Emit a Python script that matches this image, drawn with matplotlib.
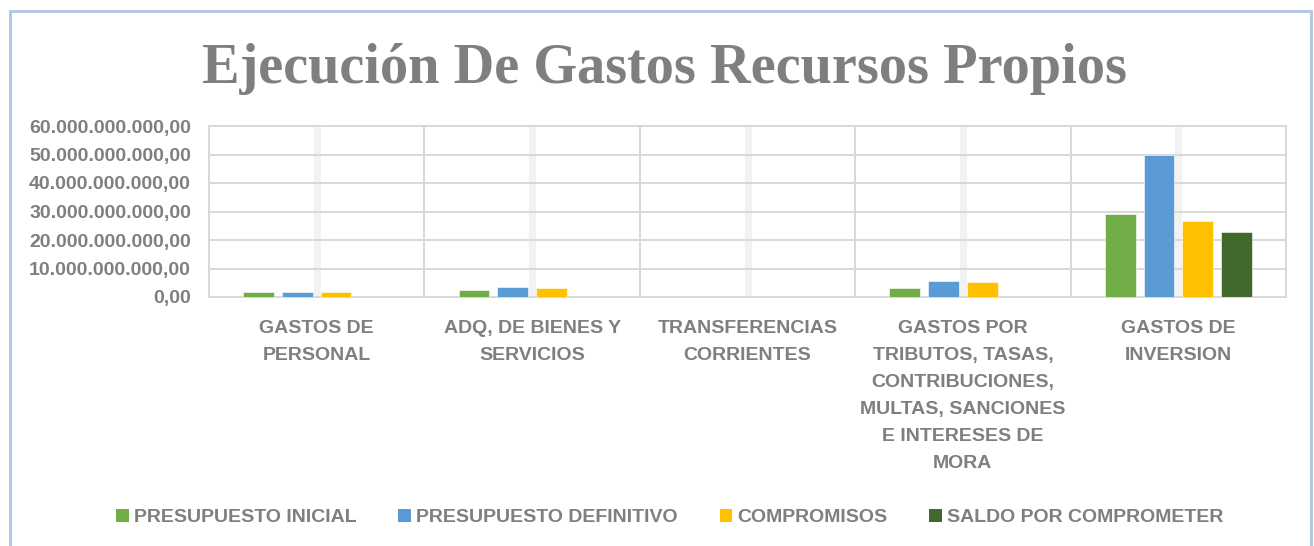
import matplotlib
matplotlib.use("Agg")
import matplotlib.pyplot as plt
from matplotlib.patches import Patch, Rectangle
from matplotlib.ticker import FuncFormatter
import numpy as np

categories = [
    "GASTOS DE\nPERSONAL",
    "ADQ, DE BIENES Y\nSERVICIOS",
    "TRANSFERENCIAS\nCORRIENTES",
    "GASTOS POR\nTRIBUTOS, TASAS,\nCONTRIBUCIONES,\nMULTAS, SANCIONES\nE INTERESES DE\nMORA",
    "GASTOS DE\nINVERSION",
]
series_names = ["PRESUPUESTO INICIAL", "PRESUPUESTO DEFINITIVO", "COMPROMISOS", "SALDO POR COMPROMETER"]
presupuesto_inicial = [1.6e9, 2.3e9, 0.0, 3.1e9, 29.0e9]
presupuesto_definitivo = [1.8e9, 3.4e9, 0.0, 5.5e9, 49.8e9]
compromisos = [1.7e9, 3.1e9, 0.0, 5.3e9, 26.5e9]
saldo_por_comprometer = [0.05e9, 0.1e9, 0.0, 0.1e9, 22.8e9]
y_ticks = [0, 10e9, 20e9, 30e9, 40e9, 50e9, 60e9]
title = "Ejecución De Gastos Recursos Propios"

colors = ["#70AD47", "#5B9BD5", "#FFC000", "#43682B"]
text_gray = "#7F7F7F"
grid_gray = "#D9D9D9"
band_gray = "#F2F2F2"
sans = "Liberation Sans"

W, H, DPI = 1314, 546, 100
fig = plt.figure(figsize=(W / DPI, H / DPI), dpi=DPI)
px = 72.0 / DPI  # points per pixel

# outer frame
fig.patches.append(Rectangle((10 / W, -0.05), (1311 - 10) / W, 1.05 - 11.5 / H,
                             transform=fig.transFigure, fill=False,
                             edgecolor="#B4C7E7", linewidth=3 * px, zorder=0))

ax = fig.add_axes([209 / W, 1 - 297 / H, (1286 - 209) / W, (297 - 126) / H])
ax.set_xlim(-0.5, len(categories) - 0.5)
ax.set_ylim(0, 60e9)
for s in ax.spines.values():
    s.set_visible(False)

# grid lines
for y in y_ticks:
    ax.axhline(y, color=grid_gray, lw=2 * px, zorder=0.5, clip_on=False)
for b in np.arange(-0.5, len(categories), 1.0):
    ax.axvline(b, color=grid_gray, lw=2 * px, zorder=0.5, clip_on=False)
for c in range(len(categories)):
    ax.axvline(c, color=band_gray, lw=7 * px, zorder=0.4)

x = np.arange(len(categories))
slot = 0.18
bw = 0.143
all_series = [presupuesto_inicial, presupuesto_definitivo, compromisos, saldo_por_comprometer]
for k, (vals, col) in enumerate(zip(all_series, colors)):
    ax.bar(x + (k - 1.5) * slot, vals, width=bw, color=col, zorder=2,
           edgecolor="white", linewidth=0.4)

ax.set_yticks(y_ticks)
def fmt(v, pos):
    s = f"{v:,.2f}"
    return s.replace(",", "X").replace(".", ",").replace("X", ".")
ax.yaxis.set_major_formatter(FuncFormatter(fmt))
ax.tick_params(axis="y", length=0, pad=13, labelsize=14, labelcolor=text_gray)
for t in ax.get_yticklabels():
    t.set_fontfamily(sans)
    t.set_fontweight("bold")

ax.set_xticks(x)
ax.set_xticklabels(categories, fontfamily=sans, fontweight="bold", fontsize=14,
                   color=text_gray, va="top")
for t in ax.get_xticklabels():
    t.set_linespacing(1.77)
ax.tick_params(axis="x", length=0, pad=16.3)

# title fitted to width
t = fig.text((203 + 1125) / 2 / W, 1 - 83 / H, title, ha="center", va="baseline",
             fontfamily="Liberation Serif", fontweight="bold", fontsize=40, color=text_gray)
fig.canvas.draw()
r = fig.canvas.get_renderer()
wpx = t.get_window_extent(r).width
t.set_fontsize(40 * 922 / wpx)

fs = 14.0
fpx = fs / px
handles = [Patch(facecolor=c, edgecolor="none") for c in colors]
leg = fig.legend(handles, series_names, loc="center left", bbox_to_anchor=(116 / W, 1 - 517.5 / H),
                 ncol=4, frameon=False, borderpad=0, borderaxespad=0,
                 handlelength=12.7 / fpx, handleheight=12.7 / fpx,
                 handletextpad=5 / fpx, columnspacing=42 / fpx,
                 prop={"family": sans, "weight": "bold", "size": fs})
for txt in leg.get_texts():
    txt.set_color(text_gray)

fig.savefig("out.png", dpi=DPI)
